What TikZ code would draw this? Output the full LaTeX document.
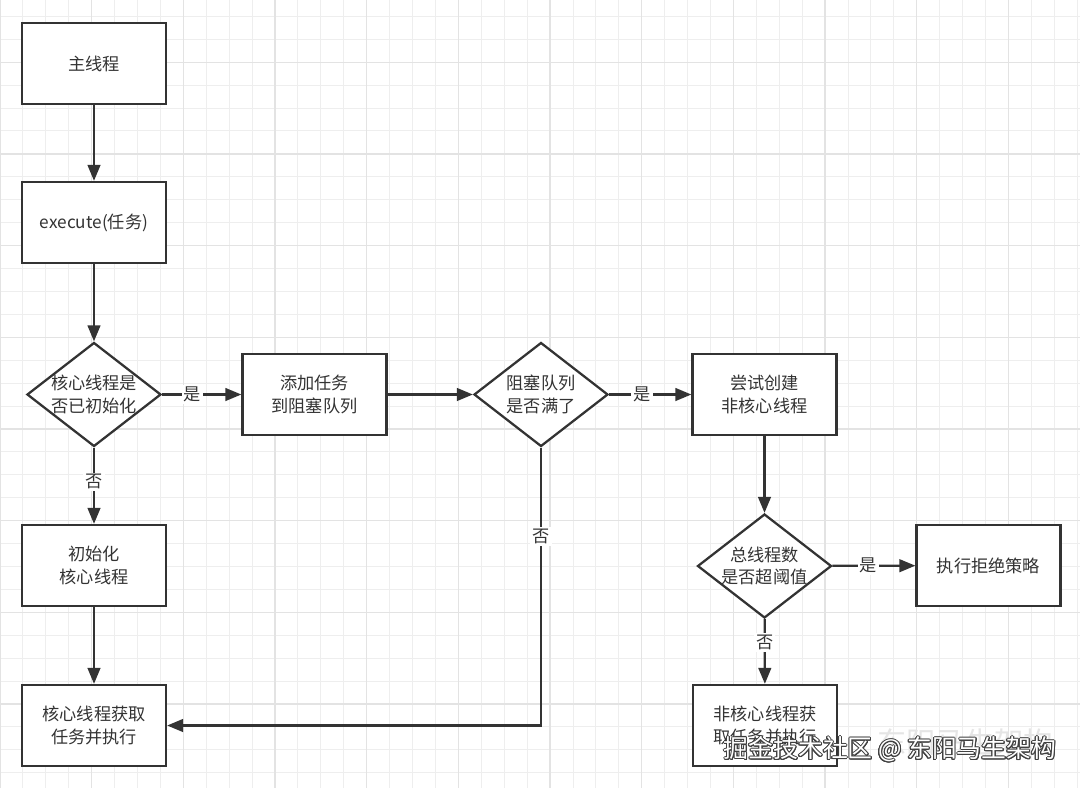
\documentclass[tikz,border=0pt]{standalone}
\usepackage{fontspec}
\setmainfont{Noto Sans CJK SC}
\usepackage{contour}
\usetikzlibrary{arrows.meta,shapes.geometric,calc}
\definecolor{linec}{HTML}{333333}
\definecolor{gridminor}{HTML}{EEEEEE}
\definecolor{gridmajor}{HTML}{E3E3E3}
\contourlength{0.7pt}
\tikzset{
  box/.style={draw=linec, line width=1.7pt, fill=white, rectangle,
    minimum width=108pt, minimum height=60.75pt, inner sep=0pt, align=center,
    text=linec, font=\fontsize{12.9}{17}\selectfont},
  dia/.style={draw=linec, line width=1.7pt, fill=white, diamond,
    minimum width=100.5pt, minimum height=78pt, inner sep=0pt},
  diatext/.style={align=center, text=linec, inner sep=0pt,
    font=\fontsize{12.9}{17}\selectfont},
  conn/.style={draw=linec, line width=1.7pt, -{Triangle[length=12pt,width=9.5pt]}},
  lbl/.style={fill=white, inner sep=1.5pt, text=linec,
    font=\fontsize{12.9}{17}\selectfont},
}
\begin{document}
\begin{tikzpicture}[x=0.75pt,y=-0.75pt]
\useasboundingbox (0,0) rectangle (1080,788);
\fill[white] (0,0) rectangle (1080,788);
% grid
\foreach \i in {0,...,47} \draw[gridminor, line width=0.75pt] ({\i*22.92},0) -- ({\i*22.92},788);
\foreach \j in {0,...,33} \draw[gridminor, line width=0.75pt] (0,{16.4+\j*22.92}) -- (1080,{16.4+\j*22.92});
\foreach \i in {0,...,11} \draw[gridmajor, line width=1pt] ({\i*91.68},0) -- ({\i*91.68},788);
\foreach \j in {0,...,7} \draw[gridmajor, line width=1pt] (0,{62.2+\j*91.68}) -- (1080,{62.2+\j*91.68});

% nodes
\node[box] (b1) at (94,63.5) {主线程};
\node[box] (b2) at (94,222.5) {execute(任务)};
\node[dia] (d1) at (94,394.5) {};
\node[diatext] (d1t) at (94,394.5) {核心线程是\\否已初始化};
\node[box] (b4) at (314.5,394.5) {添加任务\\到阻塞队列};
\node[dia] (d2) at (541,394.5) {};
\node[diatext] (d2t) at (541,394.5) {阻塞队列\\是否满了};
\node[box] (b5) at (764.5,394.5) {尝试创建\\非核心线程};
\node[box] (b3) at (94,565.5) {初始化\\核心线程};
\node[dia] (d3) at (764.5,566) {};
\node[diatext] (d3t) at (764.5,566) {总线程数\\是否超阈值};
\node[box] (b7) at (988.5,565.5) {执行拒绝策略};
\node[box] (b6) at (94,725.5) {核心线程获取\\任务并执行};
\node[box] (b8) at (765,725.5) {非核心线程获\\取任务并执行};

% connectors
\draw[conn] (b1) -- (b2);
\draw[conn] (b2) -- (d1);
\draw[conn] (d1) -- node[lbl,pos=0.38] {是} (b4);
\draw[conn] (b4) -- (d2);
\draw[conn] (d2) -- node[lbl,pos=0.4] {是} (b5);
\draw[conn] (b5) -- (d3);
\draw[conn] (d3) -- node[lbl,pos=0.43] {是} (b7);
\draw[conn] (d1) -- node[lbl,pos=0.45] {否} (b3);
\draw[conn] (b3) -- (b6);
\draw[conn] (d3) -- node[lbl,pos=0.36] {否} (b8);
\coordinate (c1) at (d2.south |- b6.east);
\draw[conn] (d2.south) -- node[lbl,pos=0.32] {否} (c1) -- (b6.east);

% watermark
\node[text=black!10, inner sep=0pt, font=\fontsize{22}{24}\selectfont] (wm2) at (965,742) {东阳马生架构};
\node[text=white, inner sep=0pt, font=\fontsize{18.6}{20}\selectfont] (wm1) at (890,750) {\contour{black!75}{掘金技术社区 @ 东阳马生架构}};
\end{tikzpicture}
\end{document}
